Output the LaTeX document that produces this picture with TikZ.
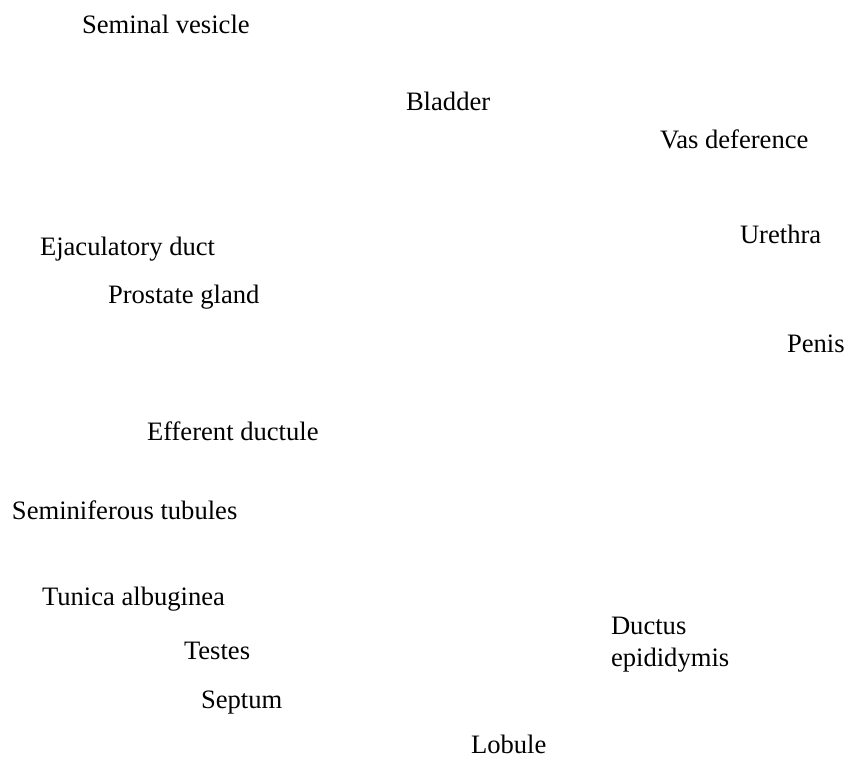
\documentclass[tikz,border=0pt]{standalone}
\usepackage{fontspec}
\setmainfont{Liberation Serif}
\begin{document}
\begin{tikzpicture}[x=1pt,y=-1pt,
  lbl/.style={anchor=base west,inner sep=0pt,outer sep=0pt,font=\fontsize{26.6}{32}\selectfont,text=black,align=left}]
\useasboundingbox (0,0) rectangle (845,756);
\node[lbl] (sv) at (82,33) {Seminal vesicle};
\node[lbl] (bl) at (406,110) {Bladder};
\node[lbl] (vd) at (660,148) {Vas deference};
\node[lbl] (ur) at (740,243) {Urethra};
\node[lbl] (ej) at (40,255) {Ejaculatory duct};
\node[lbl] (pg) at (108,303) {Prostate gland};
\node[lbl] (pe) at (787,352) {Penis};
\node[lbl] (ef) at (147,440) {Efferent ductule};
\node[lbl] (st) at (12,519) {Seminiferous tubules};
\node[lbl] (ta) at (42,605) {Tunica albuginea};
\node[lbl] (de) at (611,666) {Ductus\\epididymis};
\node[lbl] (te) at (184,659) {Testes};
\node[lbl] (se) at (201,708) {Septum};
\node[lbl] (lo) at (471,753) {Lobule};
\end{tikzpicture}
\end{document}
